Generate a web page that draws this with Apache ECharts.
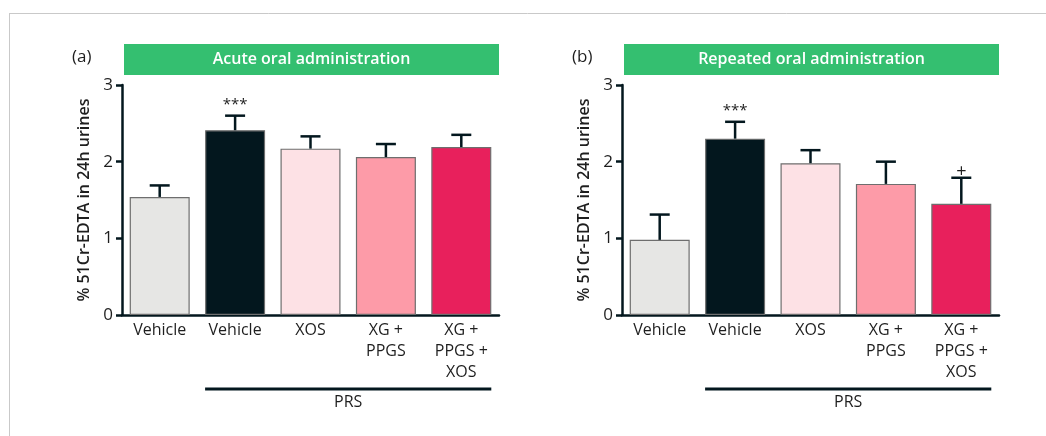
<!DOCTYPE html>
<html>
<head>
<meta charset="utf-8">
<style>
  html, body { margin: 0; padding: 0; background: #ffffff; }
  #chart { width: 1046px; height: 436px; }
</style>
<script src="https://cdn.jsdelivr.net/npm/echarts@6/dist/echarts.min.js"></script>
</head>
<body>
<div id="chart"></div>
<script>
// Groups along the x axis (same for both panels)
const categories = ['Vehicle', 'Vehicle', 'XOS', 'XG +\nPPGS', 'XG +\nPPGS +\nXOS'];
const groupColors = ['#e6e6e4', '#03171e', '#fde1e5', '#fd9ba8', '#e8205c'];

// Panel (a): acute oral administration — mean and SEM
const acuteMean = [1.54, 2.41, 2.17, 2.06, 2.19];
const acuteSem  = [0.15, 0.19, 0.16, 0.17, 0.16];
const acuteSig  = ['', '***', '', '', ''];

// Panel (b): repeated oral administration — mean and SEM
const repeatMean = [0.98, 2.30, 1.98, 1.71, 1.45];
const repeatSem  = [0.33, 0.22, 0.17, 0.29, 0.34];
const repeatSig  = ['', '***', '', '', '+'];

const yTicks = [0, 1, 2, 3];
const yName = '% 51Cr-EDTA in 24h urines';
const panelTitles = ['Acute oral administration', 'Repeated oral administration'];
const panelTags = ['(a)', '(b)'];
const bracketLabel = 'PRS';

const FONT = 'Open Sans';
const INK = '#03171e';
const TEXT = '#1e1e1e';

const grids = [
  { left: 122, top: 85, width: 377, height: 230 },
  { left: 622, top: 85, width: 377, height: 230 }
];

function xAxisFor(i) {
  return {
    type: 'category', gridIndex: i, data: categories,
    axisLine: { lineStyle: { color: INK, width: 2.5 } },
    axisTick: { show: false },
    axisLabel: { color: TEXT, fontFamily: FONT, fontSize: 16, lineHeight: 21, margin: 5, interval: 0 }
  };
}
function yAxisFor(i) {
  return {
    type: 'value', gridIndex: i, min: yTicks[0], max: yTicks[yTicks.length - 1], interval: 1,
    name: yName, nameLocation: 'middle', nameGap: 30,
    nameTextStyle: { color: TEXT, fontFamily: FONT, fontSize: 16, fontWeight: 600 },
    axisLine: { show: true, lineStyle: { color: INK, width: 2.5 } },
    axisTick: { show: true, length: 6, lineStyle: { color: INK, width: 2.5 } },
    axisLabel: { color: TEXT, fontFamily: FONT, fontSize: 17, margin: 9 },
    splitLine: { show: false }
  };
}

function barSeries(i, means) {
  return {
    type: 'bar', xAxisIndex: i, yAxisIndex: i, barWidth: 60,
    data: means.map((v, k) => ({
      value: v,
      itemStyle: { color: groupColors[k], borderColor: '#6e6e6e', borderWidth: 1.2 }
    })),
    z: 2
  };
}

function errorSeries(i, means, sems, sig) {
  return {
    type: 'custom', xAxisIndex: i, yAxisIndex: i, z: 3,
    data: means.map((m, k) => [k, m, m + sems[k]]),
    renderItem: function (params, api) {
      const k = api.value(0);
      const base = api.coord([k, api.value(1)]);
      const top = api.coord([k, api.value(2)]);
      const half = 10;
      const style = { stroke: INK, lineWidth: 2.5 };
      const children = [
        { type: 'line', shape: { x1: base[0], y1: base[1], x2: top[0], y2: top[1] }, style: style },
        { type: 'line', shape: { x1: top[0] - half, y1: top[1], x2: top[0] + half, y2: top[1] }, style: style }
      ];
      const mark = sig[k];
      if (mark) {
        const plus = mark === '+';
        children.push({
          type: 'text',
          style: {
            text: mark, x: top[0], y: plus ? top[1] - 6 : top[1] - 11,
            align: 'center', verticalAlign: 'middle',
            fill: TEXT, font: (plus ? '18px ' : '15px ') + FONT
          }
        });
      }
      return { type: 'group', children: children };
    }
  };
}

const chart = echarts.init(document.getElementById('chart'), null, { renderer: 'canvas' });

chart.setOption({
  animation: false,
  backgroundColor: '#ffffff',
  grid: grids,
  xAxis: [xAxisFor(0), xAxisFor(1)],
  yAxis: [yAxisFor(0), yAxisFor(1)],
  series: [
    barSeries(0, acuteMean), errorSeries(0, acuteMean, acuteSem, acuteSig),
    barSeries(1, repeatMean), errorSeries(1, repeatMean, repeatSem, repeatSig)
  ]
});

// Decorations: frame, panel banners, panel tags and the PRS bracket under the treated groups
const graphics = [
  { type: 'line', shape: { x1: 9, y1: 13.5, x2: 1046, y2: 13.5 }, style: { stroke: '#c9c9c9', lineWidth: 1 } },
  { type: 'line', shape: { x1: 9.5, y1: 13, x2: 9.5, y2: 436 }, style: { stroke: '#c9c9c9', lineWidth: 1 } }
];
grids.forEach(function (g, i) {
  graphics.push({
    type: 'rect', shape: { x: g.left + 2, y: 44, width: g.width - 2, height: 31 },
    style: { fill: '#34bf70' }
  });
  graphics.push({
    type: 'text', x: g.left + 1 + g.width / 2, y: 59.5,
    style: { text: panelTitles[i], align: 'center', verticalAlign: 'middle', fill: '#ffffff', font: '600 16px ' + FONT }
  });
  graphics.push({
    type: 'text', x: g.left - 50, y: 57,
    style: { text: panelTags[i], align: 'left', verticalAlign: 'middle', fill: TEXT, font: '17px ' + FONT }
  });
  const x0 = chart.convertToPixel({ xAxisIndex: i }, categories[1]);
  const x1 = chart.convertToPixel({ xAxisIndex: i }, categories[4]);
  graphics.push({
    type: 'line', shape: { x1: x0 - 30, y1: 389, x2: x1 + 30, y2: 389 },
    style: { stroke: INK, lineWidth: 3 }
  });
  graphics.push({
    type: 'text', x: (x0 + x1) / 2, y: 402,
    style: { text: bracketLabel, align: 'center', verticalAlign: 'middle', fill: TEXT, font: '16px ' + FONT }
  });
});
chart.setOption({ graphic: graphics });
</script>
</body>
</html>
